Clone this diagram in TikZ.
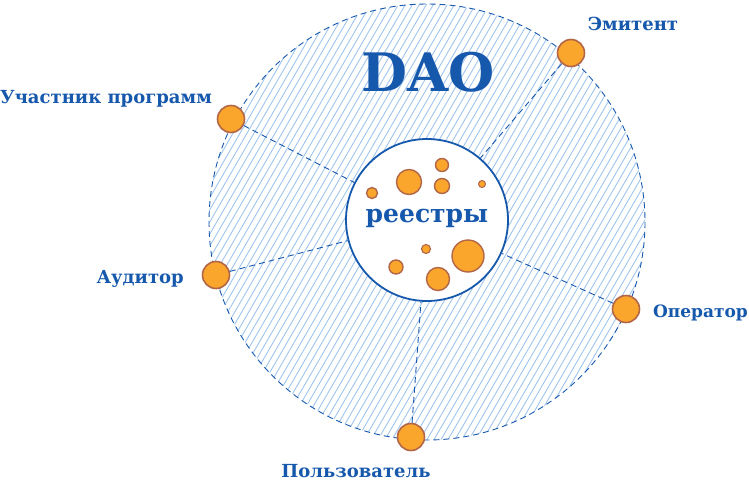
\documentclass[tikz,border=0pt]{standalone}
\usepackage{fontspec}
\setmainfont{DejaVu Serif}
\definecolor{dblue}{RGB}{22,88,172}
\definecolor{hatch}{RGB}{160,196,236}
\definecolor{orng}{RGB}{250,166,44}
\definecolor{brwn}{RGB}{178,102,72}
\begin{document}
\begin{tikzpicture}[x=1pt,y=-1pt,
  actor/.style={circle,fill=orng,draw=brwn,line width=1.6pt,minimum size=27pt,inner sep=0pt},
  dot/.style={circle,fill=orng,draw=brwn,line width=1.4pt,inner sep=0pt},
  lbl/.style={text=dblue,font=\bfseries\fontsize{18}{22}\selectfont,inner sep=0pt},
  spoke/.style={dblue,line width=0.9pt,dash pattern=on 6pt off 4pt}]
\useasboundingbox (0,0) rectangle (749,485);
% hatched disc
\begin{scope}
  \clip (427,222) circle (218);
  \foreach \x in {-300,-293,...,700} {
    \draw[hatch,line width=0.9pt] (\x,450) -- (\x+260,0);
  }
\end{scope}
\draw[spoke] (427,222) circle (218);
% central registry
\node[circle,draw=dblue,fill=white,line width=1.8pt,minimum size=162pt,inner sep=0pt] (reg) at (427,220) {};
\node[text=dblue,font=\bfseries\fontsize{25}{30}\selectfont,inner sep=0pt] (regtxt) at (427,218) {реестры};
\node[text=dblue,font=\bfseries\fontsize{53}{60}\selectfont,inner sep=0pt] (dao) at (428,72) {DAO};
% dots
\node[dot,minimum size=11pt] (d1) at (372,193) {};
\node[dot,minimum size=25pt] (d2) at (409,182) {};
\node[dot,minimum size=13pt] (d3) at (442,165) {};
\node[dot,minimum size=15pt] (d4) at (442,186) {};
\node[dot,minimum size=7pt,line width=1pt] (d5) at (482,184) {};
\node[dot,minimum size=9pt,line width=1.1pt] (d6) at (426,249) {};
\node[dot,minimum size=32pt] (d7) at (468,256) {};
\node[dot,minimum size=14pt] (d8) at (396,267) {};
\node[dot,minimum size=23pt] (d9) at (438,279) {};
% actors
\node[actor] (em) at (571,53) {};
\node[actor] (op) at (626,309) {};
\node[actor] (po) at (411,437) {};
\node[actor] (au) at (216,275) {};
\node[actor] (uc) at (231,119) {};
\foreach \a in {em,op,po,au,uc} { \draw[spoke] (\a) -- (reg); }
% labels
\node[lbl] (lem) at (633,24) {Эмитент};
\node[lbl,anchor=east,font=\bfseries\fontsize{17}{20}\selectfont] (lop) at (748,313) {Оператор};
\node[lbl] (lpo) at (356,471) {Пользователь};
\node[lbl,anchor=east] (lau) at (184,279) {Аудитор};
\node[lbl,anchor=west] (luc) at (0,99) {Участник программ};
\end{tikzpicture}
\end{document}
